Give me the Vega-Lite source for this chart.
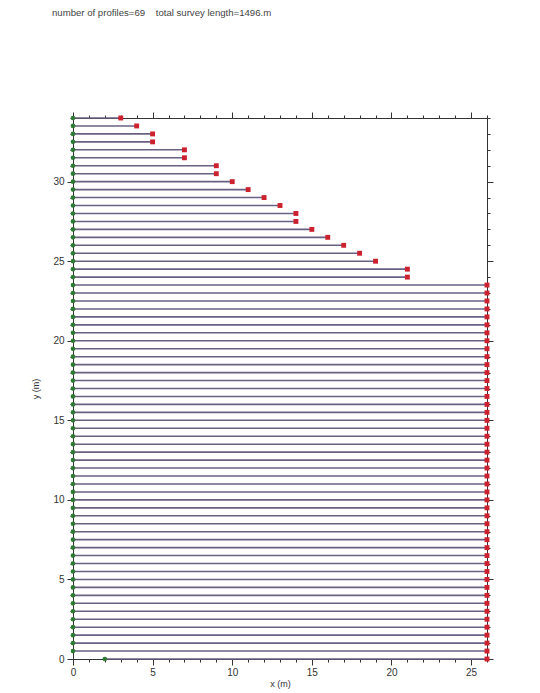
{
  "$schema": "https://vega.github.io/schema/vega-lite/v6.json",
  "width": 414,
  "height": 541,
  "autosize": "none",
  "padding": {"left": 73, "top": 118, "right": 53, "bottom": 34},
  "background": "white",
  "config": {
    "font": "Liberation Sans",
    "view": {"stroke": "#333333", "strokeWidth": 1},
    "axis": {
      "grid": false,
      "domainColor": "#333333",
      "tickColor": "#333333",
      "labelColor": "#333333",
      "titleColor": "#333333",
      "labelFont": "Liberation Sans",
      "titleFont": "Liberation Sans",
      "labelFontSize": 10,
      "titleFontSize": 9,
      "titleFontWeight": "normal"
    }
  },
  "title": {
    "text": "number of profiles=69\u00a0\u00a0\u00a0 total survey length=1496.m",
    "anchor": "start",
    "frame": "group",
    "dx": -21,
    "offset": 94,
    "fontSize": 9.6,
    "fontWeight": "normal",
    "color": "#444444",
    "font": "Liberation Sans"
  },
  "data": {
    "values": [
      {"y": 0, "start": 2, "end": 26},
      {"y": 0.5, "start": 0, "end": 26},
      {"y": 1, "start": 0, "end": 26},
      {"y": 1.5, "start": 0, "end": 26},
      {"y": 2, "start": 0, "end": 26},
      {"y": 2.5, "start": 0, "end": 26},
      {"y": 3, "start": 0, "end": 26},
      {"y": 3.5, "start": 0, "end": 26},
      {"y": 4, "start": 0, "end": 26},
      {"y": 4.5, "start": 0, "end": 26},
      {"y": 5, "start": 0, "end": 26},
      {"y": 5.5, "start": 0, "end": 26},
      {"y": 6, "start": 0, "end": 26},
      {"y": 6.5, "start": 0, "end": 26},
      {"y": 7, "start": 0, "end": 26},
      {"y": 7.5, "start": 0, "end": 26},
      {"y": 8, "start": 0, "end": 26},
      {"y": 8.5, "start": 0, "end": 26},
      {"y": 9, "start": 0, "end": 26},
      {"y": 9.5, "start": 0, "end": 26},
      {"y": 10, "start": 0, "end": 26},
      {"y": 10.5, "start": 0, "end": 26},
      {"y": 11, "start": 0, "end": 26},
      {"y": 11.5, "start": 0, "end": 26},
      {"y": 12, "start": 0, "end": 26},
      {"y": 12.5, "start": 0, "end": 26},
      {"y": 13, "start": 0, "end": 26},
      {"y": 13.5, "start": 0, "end": 26},
      {"y": 14, "start": 0, "end": 26},
      {"y": 14.5, "start": 0, "end": 26},
      {"y": 15, "start": 0, "end": 26},
      {"y": 15.5, "start": 0, "end": 26},
      {"y": 16, "start": 0, "end": 26},
      {"y": 16.5, "start": 0, "end": 26},
      {"y": 17, "start": 0, "end": 26},
      {"y": 17.5, "start": 0, "end": 26},
      {"y": 18, "start": 0, "end": 26},
      {"y": 18.5, "start": 0, "end": 26},
      {"y": 19, "start": 0, "end": 26},
      {"y": 19.5, "start": 0, "end": 26},
      {"y": 20, "start": 0, "end": 26},
      {"y": 20.5, "start": 0, "end": 26},
      {"y": 21, "start": 0, "end": 26},
      {"y": 21.5, "start": 0, "end": 26},
      {"y": 22, "start": 0, "end": 26},
      {"y": 22.5, "start": 0, "end": 26},
      {"y": 23, "start": 0, "end": 26},
      {"y": 23.5, "start": 0, "end": 26},
      {"y": 24, "start": 0, "end": 21},
      {"y": 24.5, "start": 0, "end": 21},
      {"y": 25, "start": 0, "end": 19},
      {"y": 25.5, "start": 0, "end": 18},
      {"y": 26, "start": 0, "end": 17},
      {"y": 26.5, "start": 0, "end": 16},
      {"y": 27, "start": 0, "end": 15},
      {"y": 27.5, "start": 0, "end": 14},
      {"y": 28, "start": 0, "end": 14},
      {"y": 28.5, "start": 0, "end": 13},
      {"y": 29, "start": 0, "end": 12},
      {"y": 29.5, "start": 0, "end": 11},
      {"y": 30, "start": 0, "end": 10},
      {"y": 30.5, "start": 0, "end": 9},
      {"y": 31, "start": 0, "end": 9},
      {"y": 31.5, "start": 0, "end": 7},
      {"y": 32, "start": 0, "end": 7},
      {"y": 32.5, "start": 0, "end": 5},
      {"y": 33, "start": 0, "end": 5},
      {"y": 33.5, "start": 0, "end": 4},
      {"y": 34, "start": 0, "end": 3}
    ]
  },
  "layer": [
    {
      "mark": {"type": "rule", "color": "#6a6080", "strokeWidth": 1.6},
      "encoding": {
        "x": {
          "field": "start", "type": "quantitative",
          "scale": {"domain": [0, 26], "nice": false, "zero": false},
          "axis": {
            "orient": "bottom",
            "title": "x (m)",
            "values": [0,1,2,3,4,5,6,7,8,9,10,11,12,13,14,15,16,17,18,19,20,21,22,23,24,25,26],
            "labelExpr": "datum.value % 5 === 0 ? datum.label : ''",
            "tickSize": {"condition": {"test": "datum.value % 5 === 0", "value": 6}, "value": 3},
            "labelPadding": 2,
            "titlePadding": 2,
            "labelFlush": false,
            "labelOverlap": false
          }
        },
        "x2": {"field": "end"},
        "y": {
          "field": "y", "type": "quantitative",
          "scale": {"domain": [0, 34], "nice": false, "zero": false},
          "axis": {
            "orient": "left",
            "title": "y (m)",
            "values": [0,1,2,3,4,5,6,7,8,9,10,11,12,13,14,15,16,17,18,19,20,21,22,23,24,25,26,27,28,29,30,31,32,33,34],
            "labelExpr": "datum.value % 5 === 0 ? datum.label : ''",
            "tickSize": {"condition": {"test": "datum.value % 5 === 0", "value": 6}, "value": 3},
            "labelPadding": 3,
            "titlePadding": 12,
            "labelFlush": false,
            "labelOverlap": false
          }
        }
      }
    },
    {
      "mark": {"type": "point", "shape": "circle", "filled": true, "color": "#2e7a34", "size": 22, "opacity": 1},
      "encoding": {
        "x": {"field": "start", "type": "quantitative", "axis": null},
        "y": {"field": "y", "type": "quantitative", "axis": null}
      }
    },
    {
      "mark": {"type": "point", "shape": "square", "filled": true, "color": "#cc2230", "size": 24, "opacity": 1},
      "encoding": {
        "x": {"field": "end", "type": "quantitative", "axis": null},
        "y": {"field": "y", "type": "quantitative", "axis": null}
      }
    },
    {
      "mark": {"type": "point", "opacity": 0},
      "encoding": {
        "x": {
          "field": "end", "type": "quantitative",
          "axis": {
            "orient": "top",
            "title": null,
            "labels": false,
            "values": [0,1,2,3,4,5,6,7,8,9,10,11,12,13,14,15,16,17,18,19,20,21,22,23,24,25,26],
            "tickSize": {"condition": {"test": "datum.value % 5 === 0", "value": 6}, "value": 3}
          }
        },
        "y": {
          "field": "y", "type": "quantitative",
          "axis": {
            "orient": "right",
            "title": null,
            "labels": false,
            "values": [0,1,2,3,4,5,6,7,8,9,10,11,12,13,14,15,16,17,18,19,20,21,22,23,24,25,26,27,28,29,30,31,32,33,34],
            "tickSize": {"condition": {"test": "datum.value % 5 === 0", "value": 6}, "value": 3}
          }
        }
      }
    }
  ],
  "resolve": {"axis": {"x": "independent", "y": "independent"}}
}
